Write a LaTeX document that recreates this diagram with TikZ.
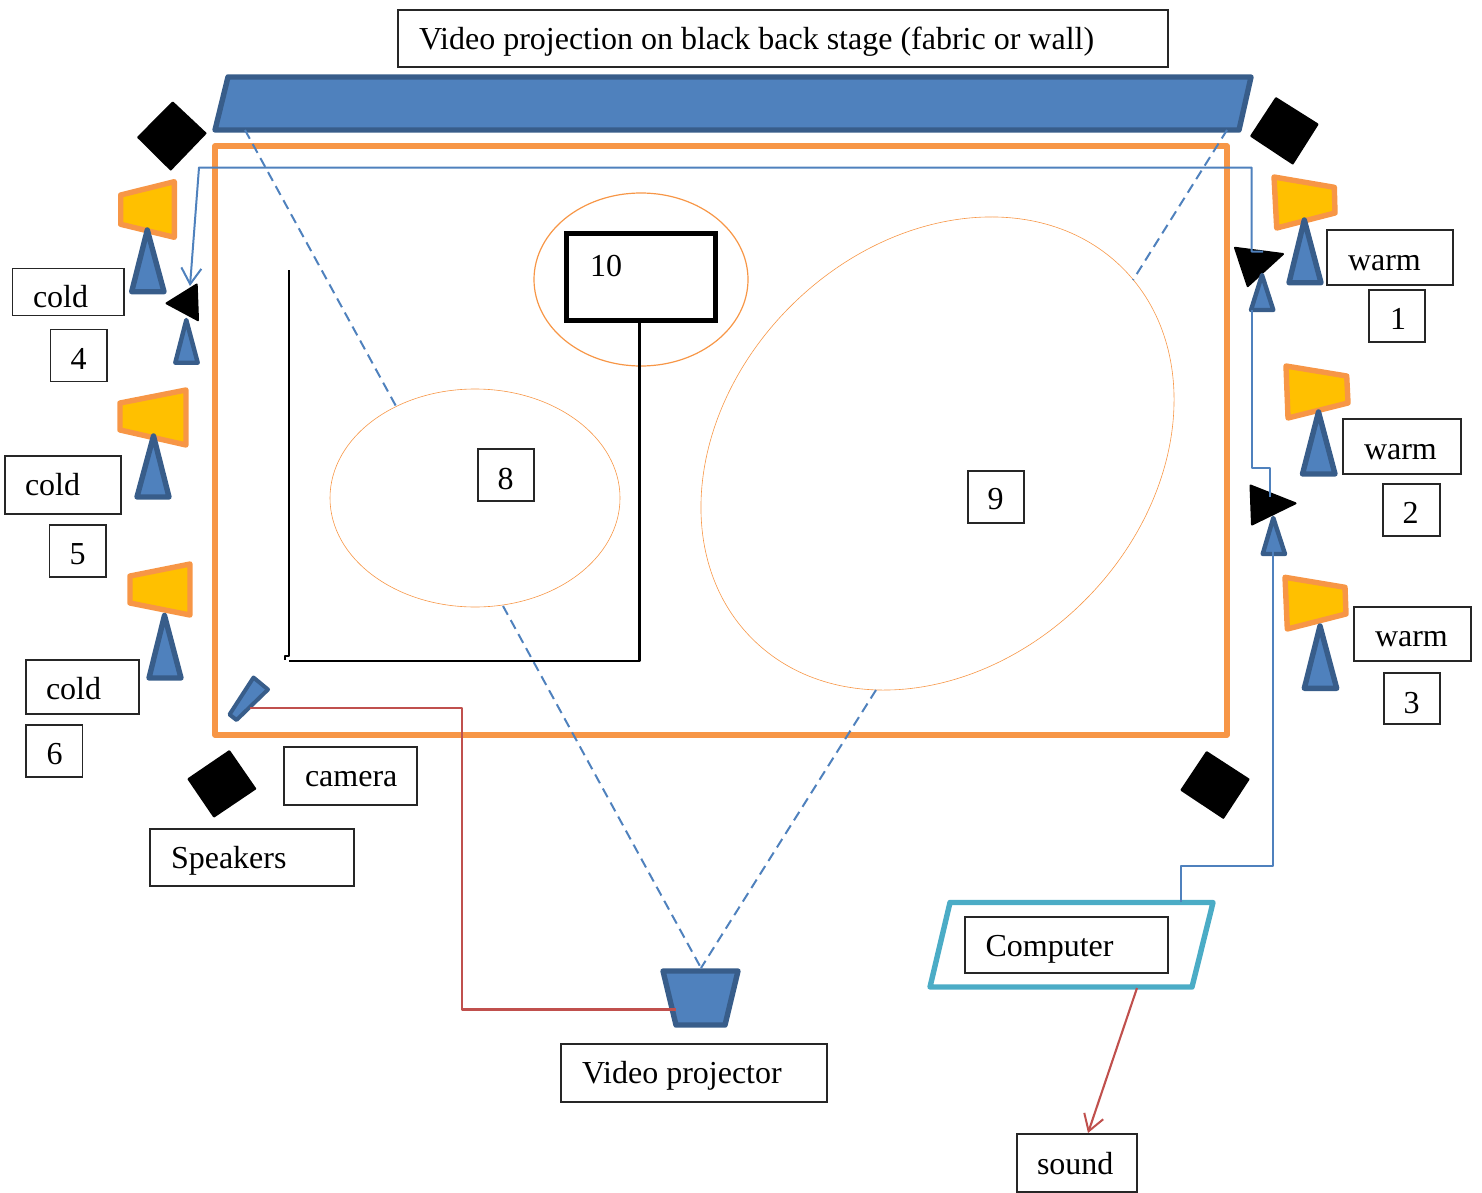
\documentclass[tikz,border=0pt]{standalone}
\usepackage{fontspec}
\setmainfont{Liberation Serif}
\usetikzlibrary{arrows.meta,shapes.geometric}
\definecolor{bfill}{HTML}{4F81BD}
\definecolor{bline}{HTML}{385D8A}
\definecolor{orng}{HTML}{F79646}
\definecolor{lamp}{HTML}{FFC000}
\definecolor{redl}{HTML}{C0504D}
\definecolor{teal}{HTML}{4BACC6}
\tikzset{
  labelbox/.style={draw=black!85,line width=0.6pt,fill=white,inner sep=0pt,outer sep=0pt,anchor=north west,font=\fontsize{16}{20}\selectfont},
  stagebox/.style={labelbox,draw=black,line width=2.5pt,fill=none},
  screen/.style={fill=bfill,draw=bline,line width=2.7pt,line join=round},
  stand/.style={fill=bfill,draw=bline,line width=2.7pt,line join=round},
  smallstand/.style={fill=bfill,draw=bline,line width=2.2pt,line join=round},
  lampbody/.style={fill=lamp,draw=orng,line width=2.7pt,line join=round},
  blackshape/.style={fill=black,draw=black,line width=1pt,line join=round},
  area/.style={draw=orng,line width=2.7pt,line join=round},
  ring/.style={ellipse,draw=orng,line width=0.3pt,inner sep=0pt,outer sep=0pt},
  beam/.style={draw=bfill,line width=1pt,dash pattern=on 5pt off 3pt},
  bluewire/.style={draw=bfill,line width=1pt,line join=round},
  redwire/.style={draw=redl,line width=1.05pt,line join=round},
  blackwire/.style={draw=black,line width=1pt,line join=round},
  barb/.style={-{Straight Barb[length=8pt,width=10pt,line width=1pt]}}
}
% [style], name, x0, y0, x1, y1, text x, baseline, text
\newcommand{\boxlabel}[9][labelbox]{%
  \pgfmathsetlengthmacro{\bw}{(#5-#3)*0.5pt}%
  \pgfmathsetlengthmacro{\bh}{(#8-#4)*0.5pt}%
  \pgfmathsetlengthmacro{\bd}{(#6-#8)*0.5pt}%
  \pgfmathsetlengthmacro{\bp}{(#7-#3)*0.5pt}%
  \node[#1,text height=\bh,text depth=\bd] (#2) at (#3,#4) {\makebox[\bw][l]{\hspace*{\bp}#9}};%
}
\begin{document}
\begin{tikzpicture}[x=0.5pt,y=-0.5pt]
\useasboundingbox (0,0) rectangle (1482,1193);

% named connector ends
\coordinate (scrL) at (245,130);
\coordinate (scrR) at (1227,130);
\coordinate (e8top) at (397,408);
\coordinate (e8bot) at (503,606);
\coordinate (e9top) at (1133,280);
\coordinate (e9bot) at (876,690);
\coordinate (prTop) at (701,968);
\coordinate (camEnd) at (250,708);
\coordinate (prSide) at (676,1009.5);
\coordinate (compTop) at (1181,902);
\coordinate (compBot) at (1137,988);
\coordinate (soundTop) at (1088,1133);
\coordinate (head1) at (1263,251.5);
\coordinate (head4) at (190,286);
\coordinate (head2) at (1270,497);
\coordinate (stand1) at (1252,310);
\coordinate (stand2) at (1273,546);

% back screen and stage
\draw[screen] (228,77) -- (1251,77) -- (1239,130) -- (215,130) -- cycle;
\draw[area] (215,146) rectangle (1227,735);

% circles on stage
\node[ring,minimum width=290*0.5pt,minimum height=218*0.5pt] (zone8) at (475,498) {};
\node[ring,rotate=45,minimum width=524*0.5pt,minimum height=416*0.5pt] (zone9) at (937.5,453.5) {};
\node[ring,line width=0.6pt,minimum width=214*0.5pt,minimum height=173*0.5pt] (zone10) at (641,279.5) {};

% speakers
\fill[blackshape] (172.7,102.5) -- (205.5,133.3) -- (170.7,169.5) -- (138.2,137.3) -- cycle;
\fill[blackshape] (1276,98.2) -- (1317.5,124.3) -- (1292.7,163.5) -- (1251.2,136) -- cycle;
\fill[blackshape] (229.3,751.2) -- (255.2,788.7) -- (214,816.5) -- (188.5,779) -- cycle;
\fill[blackshape] (1206.7,752.2) -- (1248.5,779.3) -- (1223.3,817.8) -- (1181.5,790) -- cycle;

% lamps and stands
\draw[lampbody] (120.7,195) -- (174.3,181.7) -- (174.3,237.3) -- (120.7,224.3) -- cycle;
\draw[stand] (147.3,230) -- (164,291.7) -- (131.7,291.7) -- cycle;
\draw[lampbody] (120,403) -- (186,390) -- (186,445) -- (120,430) -- cycle;
\draw[stand] (153.5,436) -- (169,497) -- (137,497) -- cycle;
\draw[lampbody] (130,576) -- (190,564) -- (190,615) -- (130,603) -- cycle;
\draw[stand] (164.5,615.5) -- (181,678) -- (149,678) -- cycle;
\draw[lampbody] (1274,177) -- (1334.3,187.3) -- (1335,213) -- (1276.7,228) -- cycle;
\draw[stand] (1304.3,220) -- (1321,282.7) -- (1289,282.7) -- cycle;
\draw[lampbody] (1286,366) -- (1346.7,376) -- (1348,403) -- (1288,418) -- cycle;
\draw[stand] (1318.5,412) -- (1335,474) -- (1302.5,474) -- cycle;
\draw[lampbody] (1285,577.3) -- (1345,587.3) -- (1346,614) -- (1287.3,629) -- cycle;
\draw[stand] (1320,626) -- (1336.7,688.3) -- (1304.3,688.3) -- cycle;

% small projectors
\fill[blackshape] (166.5,303.3) -- (196.7,284.5) -- (198,320.2) -- cycle;
\draw[smallstand] (186.3,320) -- (197.7,362.7) -- (175.3,362.7) -- cycle;
\fill[blackshape] (1235,247.8) -- (1283,254) -- (1247.7,286.2) -- cycle;
\draw[smallstand] (1262,275) -- (1273.3,310) -- (1251,310) -- cycle;
\fill[blackshape] (1250.5,485.5) -- (1295.5,503.3) -- (1252,524.5) -- cycle;
\draw[smallstand] (1273.3,518) -- (1285,554) -- (1262.7,554) -- cycle;

% camera, projector, computer
\draw[stand,line width=2pt] (253.5,677.5) -- (268,689.5) -- (236.5,720) -- (229.5,714.5) -- cycle;
\draw[screen] (663,971) -- (738,971) -- (725,1025) -- (676,1025) -- cycle;
\draw[draw=teal,line width=2.7pt,line join=round] (950,902.5) -- (1213,902.5) -- (1192,987) -- (930,987) -- cycle;

% beams
\draw[beam] (scrL) -- (e8top);
\draw[beam] (scrR) -- (e9top);
\draw[beam] (e8bot) -- (prTop);
\draw[beam] (e9bot) -- (prTop);

% wires
\draw[bluewire,barb] (head1) -- (1251.5,251.5) -- (1251.5,167.5) -- (199,167.5) -- (head4);
\draw[bluewire] (head2) -- (1270,468) -- (1252,468) -- (stand1);
\draw[bluewire] (compTop) -- (1181,866) -- (1273,866) -- (stand2);
\draw[redwire] (camEnd) -- (461.7,708) -- (461.7,1009.5) -- (prSide);
\draw[redwire,barb] (compBot) -- (soundTop);

% labels
\boxlabel{top}{398}{10}{1168}{67}{419}{50}{Video projection on black back stage (fabric or wall)}
\boxlabel{warmA}{1327}{230}{1453}{285}{1348}{270}{warm}
\boxlabel{numA}{1369}{290}{1425}{342}{1390}{329}{1}
\boxlabel{warmB}{1343}{419}{1461}{474}{1364}{459}{warm}
\boxlabel{numB}{1383}{484}{1440}{536}{1402.5}{523}{2}
\boxlabel{warmC}{1354}{607}{1471}{661}{1375}{646}{warm}
\boxlabel{numC}{1384}{673}{1440}{724}{1403.5}{713}{3}
\boxlabel{coldA}{12.5}{268.5}{124}{315.5}{33}{307}{cold}
\boxlabel{numD}{50.5}{329.5}{107}{381.5}{70.5}{369}{4}
\boxlabel{coldB}{5}{456}{121}{514}{25}{495.5}{cold}
\boxlabel{numE}{49.5}{525}{106}{577}{69.5}{564}{5}
\boxlabel{coldC}{26}{660}{139}{714}{46}{699.5}{cold}
\boxlabel{numF}{26}{725}{82.5}{777}{46.5}{764}{6}
\boxlabel{camlabel}{284}{747}{417}{805}{305}{786}{camera}
\boxlabel{spk}{150}{829}{354}{886}{171}{868.5}{Speakers}
\boxlabel{numH}{478}{449}{534}{501}{497.5}{489}{8}
\boxlabel{numI}{968}{471}{1024}{523}{987.5}{509.5}{9}
\boxlabel[stagebox]{stagescreen}{566.5}{233}{715.5}{320.5}{590}{276}{10}
\boxlabel{comp}{965}{917}{1168}{973}{985.5}{956}{Computer}
\boxlabel{proj}{561}{1044}{827}{1102}{582}{1083.5}{Video projector}
\boxlabel{sound}{1017}{1134}{1137}{1192}{1037}{1174}{sound}

% black line from screen box
\coordinate (boxBot) at (639.5,321);
\coordinate (lineEnd) at (289,661);
\coordinate (lineTop) at (289,270);
\draw[blackwire,line width=1.25pt] (boxBot) -- (639.5,661) -- (lineEnd);
\draw[blackwire] (lineTop) -- (289,656) -- (284.5,656) -- (284.5,660);
\end{tikzpicture}
\end{document}
